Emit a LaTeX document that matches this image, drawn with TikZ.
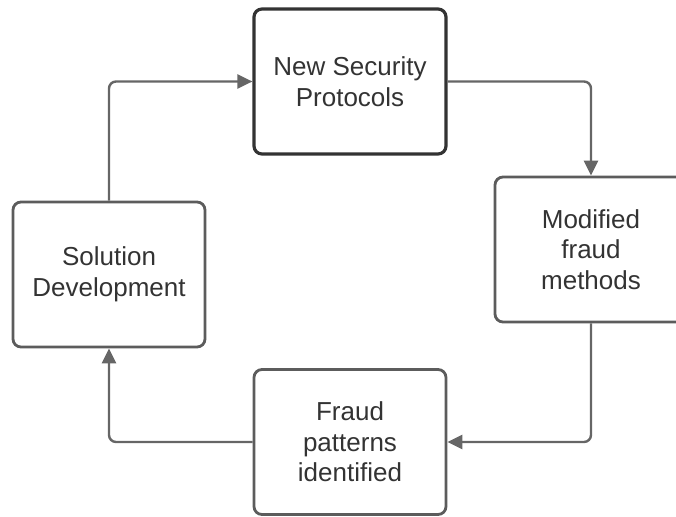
\documentclass[tikz,border=0pt]{standalone}
\usepackage{fontspec}
\setmainfont{Liberation Sans}
\usetikzlibrary{arrows.meta}

\definecolor{boxgray}{HTML}{5C5C5C}
\definecolor{boxdark}{HTML}{333333}
\definecolor{linegray}{HTML}{666666}
\definecolor{textgray}{HTML}{333333}

\tikzset{
    stagebox/.style={draw=boxgray, line width=2.8pt, rounded corners=8pt,
        minimum width=192pt, minimum height=145pt, align=center,
        text=textgray, font=\fontsize{26}{30.5}\selectfont, inner sep=0pt},
    flowarrow/.style={draw=linegray, line width=2.4pt, rounded corners=7pt,
        -{Triangle[length=15pt, width=14pt]}}
}

\begin{document}
\begin{tikzpicture}[x=1pt, y=-1pt]
    % Fix the frame of the picture
    \useasboundingbox (0,0) rectangle (676,516);
    \clip (0,0) rectangle (676,516);

    % Place the four stages
    \node[stagebox, draw=boxdark, line width=3.2pt] (protocols) at (350,81.5) {New Security\\Protocols};
    \node[stagebox] (methods) at (591,249.5) {Modified\\fraud\\methods};
    \node[stagebox] (patterns) at (350,442) {Fraud\\patterns\\identified};
    \node[stagebox] (solution) at (109,274.5) {Solution\\Development};

    % Draw the cycle
    \draw[flowarrow] (solution.north) |- (protocols.west);
    \draw[flowarrow] (protocols.east) -| (methods.north);
    \draw[flowarrow] (methods.south) |- (patterns.east);
    \draw[flowarrow] (patterns.west) -| (solution.south);

\end{tikzpicture}
\end{document}
